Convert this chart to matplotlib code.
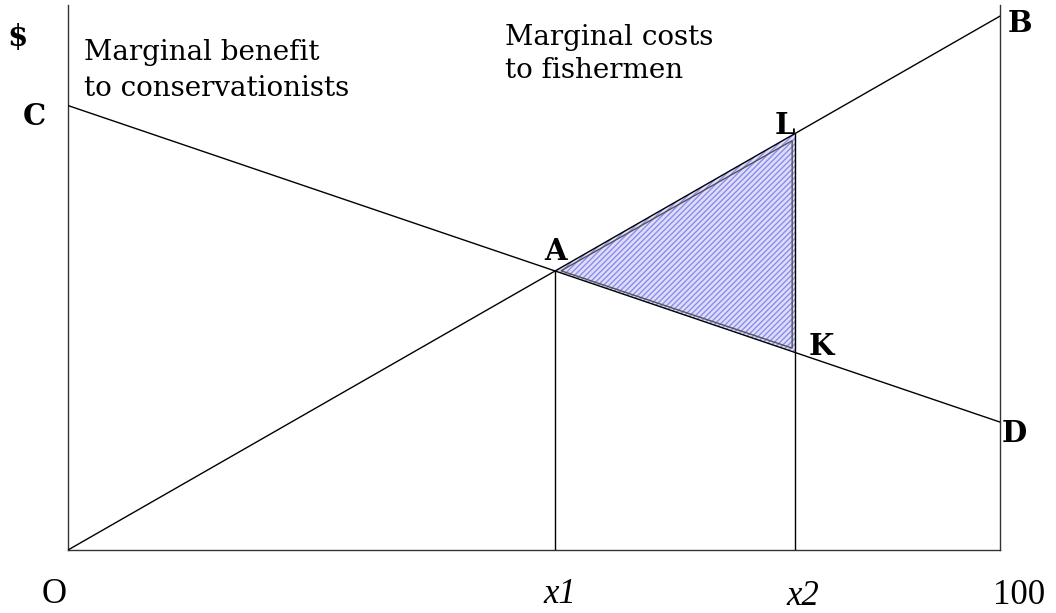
import numpy as np
import matplotlib
matplotlib.use("Agg")
import matplotlib.pyplot as plt
from matplotlib.patches import Polygon

# Data (axis units: x 0..100, $ 0..100)
mc_x = [0, 100]          # marginal costs to fishermen (O -> B)
mc_y = [0, 98.5]
mb_x = [0, 100]          # marginal benefit to conservationists (C -> D)
mb_y = [82.0, 23.6]
x_marks = [52.3, 78.0]   # x1, x2
x_tick_labels = ["O", "x1", "x2", "100"]
captions = [["Marginal benefit", "to conservationists"],
            ["Marginal costs", "to fishermen"]]

x1, x2 = x_marks
a_y = float(np.interp(x1, mc_x, mc_y))
l_y = float(np.interp(x2, mc_x, mc_y))
k_y = float(np.interp(x2, mb_x, mb_y))

W, H = 1056, 613
fig = plt.figure(figsize=(W / 100, H / 100), dpi=100)
ax = fig.add_axes([68 / W, (H - 550) / H, 932 / W, 545 / H])
ax.set_xlim(0, 100)
ax.set_ylim(0, 100.55)
ax.set_xticks([])
ax.set_yticks([])
ax.spines["top"].set_visible(False)
for s in ("left", "bottom", "right"):
    ax.spines[s].set_color("#333333")
    ax.spines[s].set_linewidth(1.0)


def ftext(px, py, s, **kw):
    """place text at pixel position (px from left, py from top)"""
    return fig.text(px / W, 1 - py / H, s, **kw)


# shaded triangle A-L-K
tri = Polygon([[x1, a_y], [x2, l_y], [x2, k_y]], closed=True,
              facecolor="#dedefa", edgecolor="#8c8cec", hatch="//////",
              linewidth=0, zorder=1)
ax.add_patch(tri)
outline = Polygon([[x1 + 0.6, a_y], [x2 - 0.3, l_y - 1.3], [x2 - 0.3, k_y + 0.8]],
                  closed=True, fill=False, edgecolor="#555555", linewidth=1.0, zorder=2)
ax.add_patch(outline)

ax.plot(mc_x, mc_y, color="black", lw=1.0, zorder=3)
ax.plot(mb_x, mb_y, color="black", lw=1.0, zorder=3)
ax.plot([x1, x1], [0, a_y], color="black", lw=1.0, zorder=3)
ax.plot([x2, x2], [0, l_y], color="black", lw=1.0, zorder=3)

serif = ["DejaVu Serif"]
bold_kw = dict(family=serif, fontweight="bold", fontsize=21)

# point labels
ftext(556, 260, "A", ha="center", va="baseline", **bold_kw)
ftext(795, 134, "L", ha="right", va="baseline", **bold_kw)
ftext(809, 355, "K", ha="left", va="baseline", **bold_kw)
ftext(1008, 32, "B", ha="left", va="baseline", **bold_kw)
ftext(1002, 442, "D", ha="left", va="baseline", **bold_kw)
ftext(46, 125, "C", ha="right", va="baseline", **bold_kw)
ftext(18, 37, "$", ha="center", va="center", **bold_kw)

# curve captions
cap_kw = dict(family=serif, fontsize=20, ha="left", va="baseline")
ftext(84, 60, captions[0][0], **cap_kw)
ftext(84, 96, captions[0][1], **cap_kw)
ftext(505, 45, captions[1][0], **cap_kw)
ftext(505, 78, captions[1][1], **cap_kw)

# axis labels
tick_kw = dict(family=["Liberation Serif"], fontsize=25, va="baseline")
ftext(54, 603, x_tick_labels[0], ha="center", **tick_kw)
ftext(560, 603, x_tick_labels[1], ha="center", style="italic", **tick_kw)
ftext(803, 605, x_tick_labels[2], ha="center", style="italic", **tick_kw)
ftext(1019, 604, x_tick_labels[3], ha="center", **tick_kw)

fig.savefig("out.png", dpi=100, facecolor="white")
